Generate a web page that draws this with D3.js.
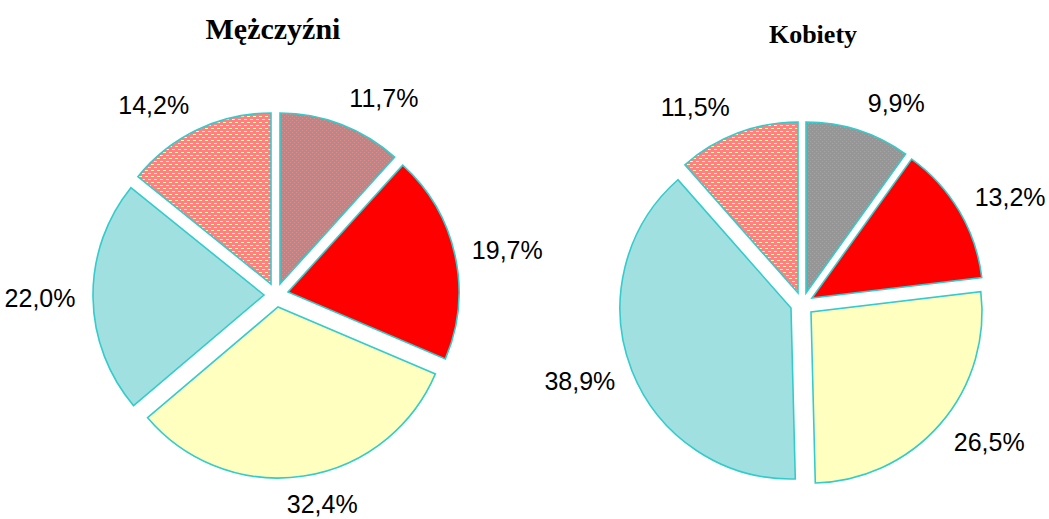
<!DOCTYPE html>
<html>
<head>
<meta charset="utf-8">
<script src="https://cdn.jsdelivr.net/npm/d3@7"></script>
<style>
  body { margin: 0; background: #fff; }
  svg { display: block; }
</style>
</head>
<body>
<div id="chart"></div>
<script>
// slice order, clockwise from 12 o'clock
const categories = ['grey', 'red', 'yellow', 'cyan', 'orange'];
const menValues = [11.7, 19.7, 32.4, 22.0, 14.2];
const womenValues = [9.9, 13.2, 26.5, 38.9, 11.5];
const menLabels = ['11,7%', '19,7%', '32,4%', '22,0%', '14,2%'];
const womenLabels = ['9,9%', '13,2%', '26,5%', '38,9%', '11,5%'];

const width = 1049;
const height = 519;
const radius = 171;
const explode = 12;
const labelRadius = 200;

const svg = d3.select('#chart')
    .append('svg')
    .attr('width', width)
    .attr('height', height);

// Excel-like fill patterns
const defs = svg.append('defs');

const greyPat = defs.append('pattern')
    .attr('id', 'pat-grey')
    .attr('patternUnits', 'userSpaceOnUse')
    .attr('width', 4).attr('height', 4);
greyPat.append('rect').attr('width', 4).attr('height', 4).attr('fill', '#969696');
greyPat.append('rect').attr('x', 0).attr('y', 0).attr('width', 1).attr('height', 1).attr('fill', '#ff8080');
greyPat.append('rect').attr('x', 2).attr('y', 2).attr('width', 1).attr('height', 1).attr('fill', '#ff8080');

const orangePat = defs.append('pattern')
    .attr('id', 'pat-orange')
    .attr('patternUnits', 'userSpaceOnUse')
    .attr('width', 6).attr('height', 6);
orangePat.append('rect').attr('width', 6).attr('height', 6).attr('fill', '#ff8080');
orangePat.append('rect').attr('x', 0).attr('y', 0).attr('width', 3).attr('height', 1).attr('fill', '#ffff99');
orangePat.append('rect').attr('x', 3).attr('y', 3).attr('width', 3).attr('height', 1).attr('fill', '#ffff99');

const color = d3.scaleOrdinal()
    .domain(categories)
    .range(['url(#pat-grey)', '#ff0000', '#ffffc0', '#a0e0e0', 'url(#pat-orange)']);

const pie = d3.pie().sort(null).value(d => d.value);
const arc = d3.arc().innerRadius(0).outerRadius(radius);
const mid = d => (d.startAngle + d.endAngle) / 2;

function drawPie(cx, cy, values, labels, title, titleX, titleY, titleSize) {
    const data = categories.map((c, i) => ({ cat: c, value: values[i], label: labels[i] }));
    const g = svg.append('g').attr('transform', `translate(${cx},${cy})`);

    const slices = g.selectAll('.slice')
        .data(pie(data))
        .enter().append('g')
        .attr('class', 'slice')
        .attr('transform', d => {
            const a = mid(d);
            return `translate(${Math.round(Math.sin(a) * explode)},${Math.round(-Math.cos(a) * explode)})`;
        });

    slices.append('path')
        .attr('d', arc)
        .attr('fill', d => color(d.data.cat))
        .attr('stroke', '#33cccc')
        .attr('stroke-width', 1.6)
        .attr('stroke-linejoin', 'miter');

    // labels outside the slice: text box pushed sideways by its half width
    const halfW = 36;
    const halfH = 11;
    g.selectAll('.lbl')
        .data(pie(data))
        .enter().append('text')
        .attr('class', 'lbl')
        .attr('font-family', 'Liberation Sans, Arial, sans-serif')
        .attr('font-size', '25px')
        .attr('text-anchor', 'middle')
        .attr('dominant-baseline', 'central')
        .attr('x', d => {
            const s = Math.sin(mid(d));
            return s * labelRadius + halfW * Math.max(-1, Math.min(1, s * 3));
        })
        .attr('y', d => {
            const c = Math.cos(mid(d));
            return -c * labelRadius - c * halfH;
        })
        .text(d => d.data.label);

    svg.append('text')
        .attr('x', titleX)
        .attr('y', titleY)
        .attr('text-anchor', 'middle')
        .attr('font-family', 'Liberation Serif, Times New Roman, serif')
        .attr('font-weight', 'bold')
        .attr('font-size', titleSize + 'px')
        .text(title);
}

drawPie(276, 295, menValues, menLabels, 'Mężczyźni', 273, 39, 30);
drawPie(802, 304, womenValues, womenLabels, 'Kobiety', 813, 43, 26);
</script>
</body>
</html>
